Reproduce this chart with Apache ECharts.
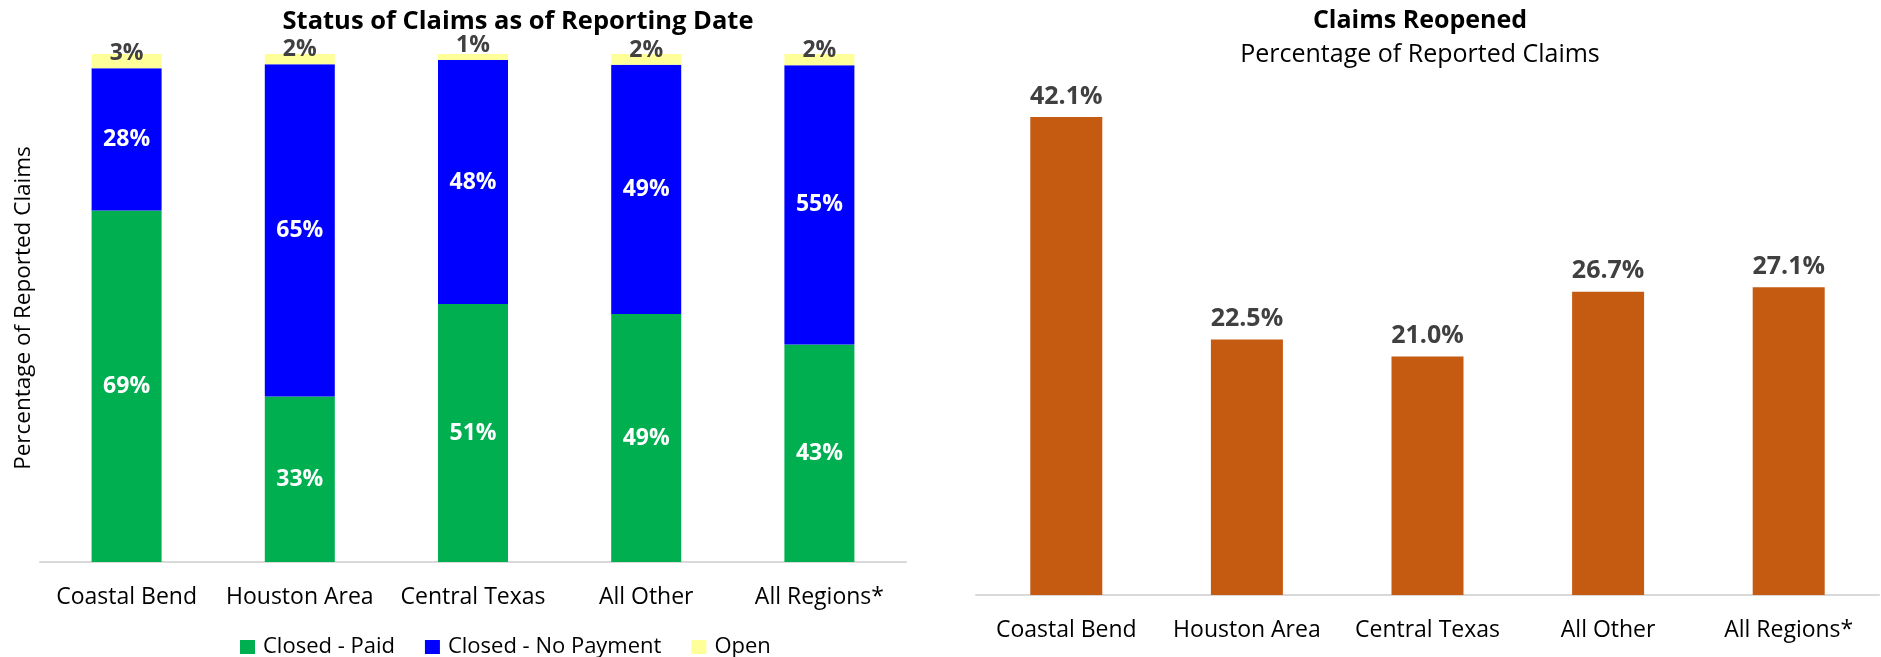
<!DOCTYPE html>
<html>
<head>
<meta charset="utf-8">
<script src="https://cdn.jsdelivr.net/npm/echarts@6/dist/echarts.min.js"></script>
<style>
html,body{margin:0;padding:0;background:#fff;}
#chart{width:1881px;height:657px;}
</style>
</head>
<body>
<div id="chart"></div>
<script>
const categories = ['Coastal Bend', 'Houston Area', 'Central Texas', 'All Other', 'All Regions*'];
const closedPaid = [69.2, 32.6, 50.8, 48.8, 42.8];
const closedNoPayment = [28.0, 65.4, 48.0, 49.1, 55.0];
const openClaims = [2.8, 2.0, 1.2, 2.1, 2.2];
const reopened = [42.1, 22.5, 21.0, 26.7, 27.1];

const FONT = '"Open Sans", "Noto Sans", sans-serif';
const chart = echarts.init(document.getElementById('chart'));

const hiddenY = {
  axisLine: {show: false}, axisTick: {show: false},
  axisLabel: {show: false}, splitLine: {show: false}
};
const catAxis = {
  type: 'category',
  axisLine: {show: true, lineStyle: {color: '#D9D9D9', width: 2}},
  axisTick: {show: false},
  axisLabel: {color: '#000', fontFamily: FONT, fontSize: 23, margin: 24, interval: 0}
};

chart.setOption({
  animation: false,
  graphic: [
    {type: 'text', x: 518, y: 22, style: {text: 'Status of Claims as of Reporting Date', font: 'bold 25.5px ' + FONT, fill: '#000', textAlign: 'center', textVerticalAlign: 'middle'}},
    {type: 'text', x: 1420, y: 21, style: {text: 'Claims Reopened', font: 'bold 25px ' + FONT, fill: '#000', textAlign: 'center', textVerticalAlign: 'middle'}},
    {type: 'text', x: 1420, y: 55, style: {text: 'Percentage of Reported Claims', font: '25px ' + FONT, fill: '#000', textAlign: 'center', textVerticalAlign: 'middle'}}
  ],
  legend: {
    data: ['Closed - Paid', 'Closed - No Payment', 'Open'],
    left: 235, top: 631,
    icon: 'rect', itemWidth: 15, itemHeight: 14, itemGap: 30,
    textStyle: {color: '#000', fontFamily: FONT, fontSize: 22, padding: [0, 0, 0, 3]}
  },
  grid: [
    {left: 40, right: 975, top: 54, bottom: 95},
    {left: 976, right: 2, top: 84, bottom: 62}
  ],
  xAxis: [
    Object.assign({gridIndex: 0, data: categories}, catAxis),
    Object.assign({gridIndex: 1, data: categories}, catAxis)
  ],
  yAxis: [
    Object.assign({gridIndex: 0, type: 'value', min: 0, max: 100,
      name: 'Percentage of Reported Claims', nameLocation: 'middle', nameGap: 5,
      nameTextStyle: {color: '#000', fontFamily: FONT, fontSize: 22.5}}, hiddenY),
    Object.assign({gridIndex: 1, type: 'value', min: 0, max: 45}, hiddenY)
  ],
  series: [
    {name: 'Closed - Paid', type: 'bar', stack: 's', xAxisIndex: 0, yAxisIndex: 0, barWidth: 70,
      data: closedPaid, itemStyle: {color: '#00B050'},
      label: {show: true, position: 'inside', color: '#fff', fontWeight: 'bold', fontFamily: FONT, fontSize: 23,
        formatter: p => Math.round(p.value) + '%'}},
    {name: 'Closed - No Payment', type: 'bar', stack: 's', xAxisIndex: 0, yAxisIndex: 0, barWidth: 70,
      data: closedNoPayment, itemStyle: {color: '#0000FF'},
      label: {show: true, position: 'inside', color: '#fff', fontWeight: 'bold', fontFamily: FONT, fontSize: 23,
        formatter: p => Math.round(p.value) + '%'}},
    {name: 'Open', type: 'bar', stack: 's', xAxisIndex: 0, yAxisIndex: 0, barWidth: 70,
      data: openClaims, itemStyle: {color: '#FFFF99'},
      label: {show: true, position: 'insideBottom', distance: 3, color: '#404040', fontWeight: 'bold', fontFamily: FONT, fontSize: 23,
        formatter: p => Math.round(p.value) + '%'}},
    {name: 'Claims Reopened', type: 'bar', xAxisIndex: 1, yAxisIndex: 1, barWidth: 72,
      data: reopened, itemStyle: {color: '#C55A11'},
      label: {show: true, position: 'top', distance: 8, color: '#404040', fontWeight: 'bold', fontFamily: FONT, fontSize: 25,
        formatter: p => p.value.toFixed(1) + '%'}}
  ]
});
</script>
</body>
</html>
